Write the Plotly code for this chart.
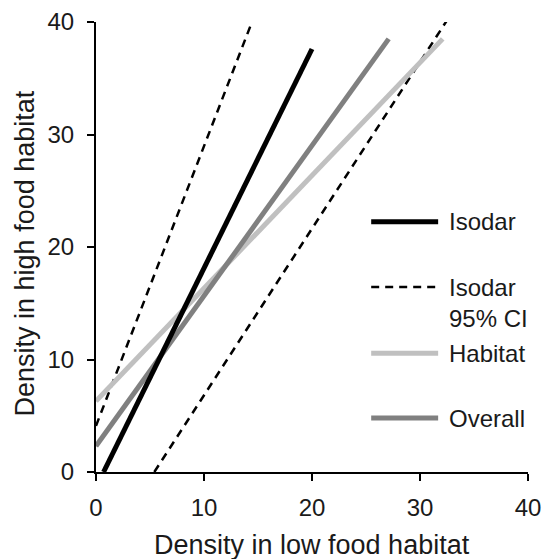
import plotly.graph_objects as go

# Data
isodar_x = [0.7, 20.0]
isodar_y = [0.0, 37.6]
ci_upper_x = [0.0, 14.4]
ci_upper_y = [4.1, 39.9]
ci_lower_x = [5.4, 32.6]
ci_lower_y = [0.0, 40.3]
habitat_x = [0.0, 32.1]
habitat_y = [6.3, 38.5]
overall_x = [0.0, 27.1]
overall_y = [2.3, 38.5]

tick_vals = [0, 10, 20, 30, 40]
x_title = "Density in low food habitat"
y_title = "Density in high food habitat"
legend_labels = ["Isodar", "Isodar<br>95% CI", "Habitat", "Overall"]

BLACK = "#000000"
LIGHT = "#c0c0c0"
MID = "#808080"
TXT = "#1a1a1a"
FONT = "Liberation Sans, Arial, sans-serif"
DASH = "8px,6px"

fig = go.Figure()
fig.add_trace(go.Scatter(x=ci_upper_x, y=ci_upper_y, mode="lines",
                         line=dict(color=BLACK, width=2.5, dash=DASH)))
fig.add_trace(go.Scatter(x=ci_lower_x, y=ci_lower_y, mode="lines",
                         line=dict(color=BLACK, width=2.5, dash=DASH)))
fig.add_trace(go.Scatter(x=habitat_x, y=habitat_y, mode="lines",
                         line=dict(color=LIGHT, width=5)))
fig.add_trace(go.Scatter(x=overall_x, y=overall_y, mode="lines",
                         line=dict(color=MID, width=5)))
fig.add_trace(go.Scatter(x=isodar_x, y=isodar_y, mode="lines",
                         line=dict(color=BLACK, width=5)))

# custom legend (paper coords)
leg_y = [0.556, 0.411, 0.264, 0.120]
leg_style = [(BLACK, 5, "solid"), (BLACK, 2.5, DASH), (LIGHT, 5, "solid"), (MID, 5, "solid")]
x0, x1, xt = 0.637, 0.792, 0.812
for yy, (c, w, d), lab in zip(leg_y, leg_style, legend_labels):
    fig.add_shape(type="line", xref="paper", yref="paper", x0=x0, x1=x1, y0=yy, y1=yy,
                  line=dict(color=c, width=w, dash=d))
    two = "<br>" in lab
    fig.add_annotation(xref="paper", yref="paper", x=xt, y=yy, text=lab, showarrow=False,
                       xanchor="left", yanchor="top" if two else "middle",
                       yshift=15 if two else 0,
                       align="left", font=dict(size=24, color=TXT))

fig.add_annotation(xref="paper", yref="paper", x=0.5, y=-0.162, text=x_title,
                   showarrow=False, xanchor="center", yanchor="middle",
                   font=dict(size=27, color=TXT))
fig.add_annotation(xref="paper", yref="paper", x=-0.165, y=0.485, text=y_title,
                   showarrow=False, textangle=-90, xanchor="center", yanchor="middle",
                   font=dict(size=27, color=TXT))

axis_common = dict(range=[0, 40], tickvals=tick_vals, showgrid=False, zeroline=False,
                   showline=True, linecolor=BLACK, linewidth=2, ticks="outside",
                   ticklen=7, tickwidth=2, tickcolor=BLACK, automargin=False,
                   tickfont=dict(size=24, color=TXT))
fig.update_xaxes(**axis_common, ticklabelstandoff=6)
fig.update_yaxes(**axis_common, ticklabelstandoff=8)

fig.update_layout(
    width=545, height=559,
    margin=dict(l=96, r=17, t=22, b=87, autoexpand=False),
    paper_bgcolor="white", plot_bgcolor="white",
    showlegend=False,
    font=dict(family=FONT, color=TXT),
)

fig.write_html("out.html")
